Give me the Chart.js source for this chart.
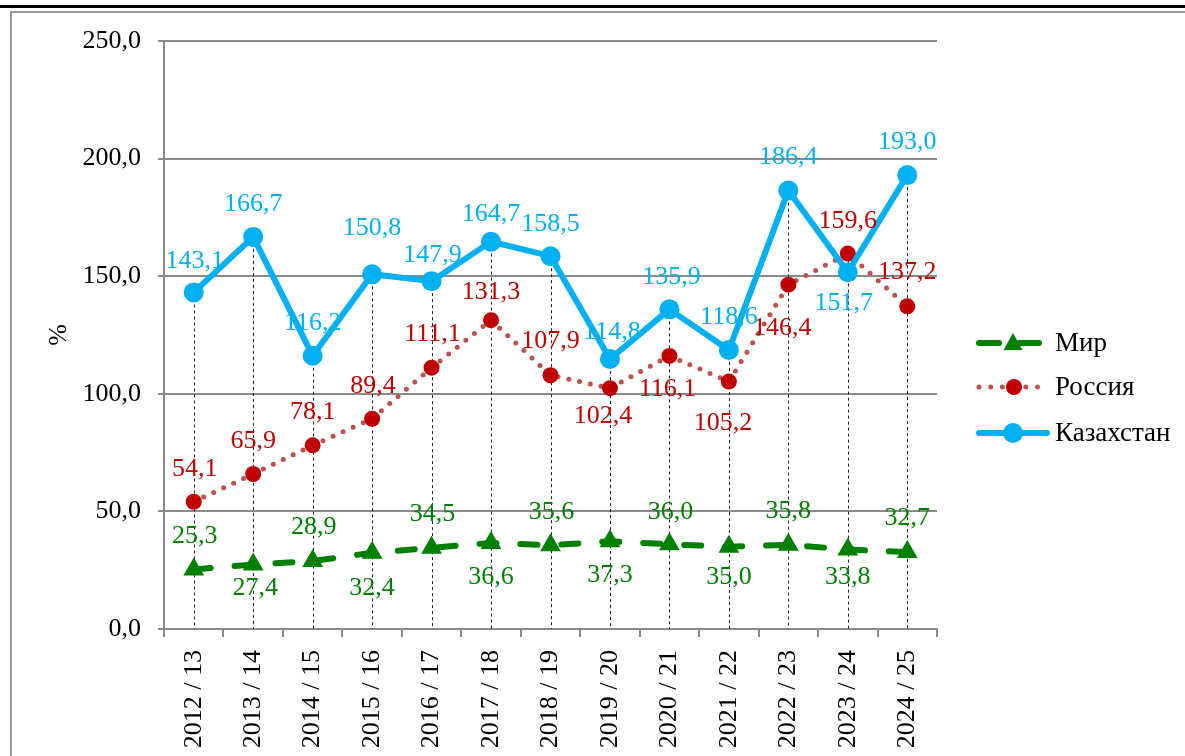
<!DOCTYPE html>
<html><head><meta charset="utf-8">
<script src="https://cdn.jsdelivr.net/npm/chart.js@4.4.1/dist/chart.umd.min.js"></script>
<style>html,body{margin:0;padding:0;background:#fff;overflow:hidden}canvas{display:block}</style>
</head><body>
<canvas id="c" width="1185" height="756"></canvas>
<script>
// ---- data ----
const categories = ['2012 / 13','2013 / 14','2014 / 15','2015 / 16','2016 / 17','2017 / 18','2018 / 19','2019 / 20','2020 / 21','2021 / 22','2022 / 23','2023 / 24','2024 / 25'];
const seriesNames = ['Мир','Россия','Казахстан'];
const mir    = [25.3, 27.4, 28.9, 32.4, 34.5, 36.6, 35.6, 37.3, 36.0, 35.0, 35.8, 33.8, 32.7];
const russia = [54.1, 65.9, 78.1, 89.4, 111.1, 131.3, 107.9, 102.4, 116.1, 105.2, 146.4, 159.6, 137.2];
const kaz    = [143.1, 166.7, 116.2, 150.8, 147.9, 164.7, 158.5, 114.8, 135.9, 118.6, 186.4, 151.7, 193.0];
const yTickValues = [0, 50, 100, 150, 200, 250];
const yTickLabels = ['0,0', '50,0', '100,0', '150,0', '200,0', '250,0'];
const yTitle = '%';

// ---- label placement (pixel offsets from each point, separate from data) ----
const mirLabelOffsets = [[1,-33],[2,24],[1,-34],[0,35],[1,-34],[0,34],[1,-33],[0,34],[1,-32],[0,30],[0,-34],[0,28],[0,-34]];
const rusLabelOffsets = [[1,-33],[0,-33],[0,-33],[1,-33],[1,-34],[0,-28],[0,-34],[-7,28],[-2,33],[-6,42],[-6,44],[0,-32],[0,-34]];
const kazLabelOffsets = [[1,-31],[0,-33],[0,-33],[0,-46],[1,-26],[0,-27],[0,-32],[2,-27],[2,-32],[0,-33],[0,-33],[-4,31],[0,-33]];

const GREEN = '#008000', RED_PT = '#C00000', RED_LN = '#C0504D', BLUE = '#00B0F0';
const GRID = '#8a8a8a';
const FONT = '"Liberation Serif", "Times New Roman", serif';
const FS = 26;
const fmt = v => v.toFixed(1).replace('.', ',');

const framePlugin = {
  id: 'frame',
  beforeDraw(chart) {
    const ctx = chart.ctx;
    ctx.save();
    ctx.fillStyle = '#fff';
    ctx.fillRect(0, 0, chart.width, chart.height);
    ctx.fillStyle = '#000';
    ctx.fillRect(0, 5, chart.width, 3);
    ctx.fillStyle = '#999';
    ctx.fillRect(10, 11, chart.width - 10, 2);
    ctx.fillRect(10, 11, 2, chart.height - 11);
    ctx.restore();
  }
};

const dropLinesPlugin = {
  id: 'dropLines',
  beforeDatasetsDraw(chart) {
    const ctx = chart.ctx, xs = chart.scales.x, ys = chart.scales.y;
    ctx.save();
    ctx.strokeStyle = '#222';
    ctx.lineWidth = 1;
    ctx.setLineDash([3, 3]);
    categories.forEach((c, i) => {
      const top = Math.max(mir[i], russia[i], kaz[i]);
      const x = Math.round(xs.getPixelForValue(i)) + 0.5;
      ctx.beginPath();
      ctx.moveTo(x, ys.getPixelForValue(top));
      ctx.lineTo(x, ys.getPixelForValue(0));
      ctx.stroke();
    });
    ctx.restore();
  }
};

const labelPlugin = {
  id: 'valueLabels',
  afterDatasetsDraw(chart) {
    const ctx = chart.ctx;
    ctx.save();
    ctx.font = FS + 'px ' + FONT;
    ctx.textAlign = 'center';
    ctx.textBaseline = 'middle';
    chart.data.datasets.forEach((ds, di) => {
      const meta = chart.getDatasetMeta(di);
      meta.data.forEach((pt, i) => {
        const off = ds.labelOffsets[i];
        ctx.fillStyle = ds.labelColor;
        ctx.fillText(fmt(ds.data[i]), pt.x + off[0], pt.y + off[1]);
      });
    });
    ctx.restore();
  }
};

const legendPlugin = {
  id: 'customLegend',
  afterDraw(chart) {
    const ctx = chart.ctx;
    const rows = [343, 387, 433];
    const x0 = 979, x1 = 1047, mx = 1013, tx = 1055;
    ctx.save();
    // Мир
    let y = rows[0];
    ctx.strokeStyle = GREEN; ctx.lineWidth = 6; ctx.lineCap = 'round';
    ctx.setLineDash([20, 20]);
    ctx.beginPath(); ctx.moveTo(x0, y); ctx.lineTo(1040, y); ctx.stroke();
    ctx.setLineDash([]);
    ctx.fillStyle = GREEN;
    ctx.beginPath(); ctx.moveTo(mx, y - 10); ctx.lineTo(mx + 9.5, y + 7); ctx.lineTo(mx - 9.5, y + 7); ctx.closePath(); ctx.fill();
    // Россия
    y = rows[1];
    ctx.strokeStyle = RED_LN; ctx.lineWidth = 5;
    ctx.setLineDash([0, 11.7]);
    ctx.beginPath(); ctx.moveTo(x0, y); ctx.lineTo(1041, y); ctx.stroke();
    ctx.setLineDash([]);
    ctx.fillStyle = RED_PT;
    ctx.beginPath(); ctx.arc(mx + 1, y, 8, 0, Math.PI * 2); ctx.fill();
    // Казахстан
    y = rows[2];
    ctx.strokeStyle = BLUE; ctx.lineWidth = 6;
    ctx.beginPath(); ctx.moveTo(x0, y); ctx.lineTo(x1, y); ctx.stroke();
    ctx.fillStyle = BLUE;
    ctx.beginPath(); ctx.arc(mx, y, 10, 0, Math.PI * 2); ctx.fill();
    // texts
    ctx.fillStyle = '#000';
    ctx.font = '27px ' + FONT;
    ctx.textAlign = 'left'; ctx.textBaseline = 'middle';
    seriesNames.forEach((n, i) => ctx.fillText(n, tx, rows[i] + 1));
    ctx.restore();
  }
};

new Chart(document.getElementById('c'), {
  type: 'line',
  data: {
    labels: categories,
    datasets: [
      {
        label: seriesNames[0], data: mir, order: 2,
        borderColor: GREEN, borderWidth: 6, borderDash: [17, 24], borderCapStyle: 'round',
        pointStyle: 'triangle', pointRadius: 12, pointBackgroundColor: GREEN, pointBorderColor: GREEN, pointBorderWidth: 0,
        labelColor: GREEN, labelOffsets: mirLabelOffsets, tension: 0, fill: false
      },
      {
        label: seriesNames[1], data: russia, order: 1,
        borderColor: RED_LN, borderWidth: 5, borderDash: [0, 11], borderCapStyle: 'round',
        pointStyle: 'circle', pointRadius: 8, pointBackgroundColor: RED_PT, pointBorderColor: RED_PT, pointBorderWidth: 0,
        labelColor: RED_PT, labelOffsets: rusLabelOffsets, tension: 0, fill: false
      },
      {
        label: seriesNames[2], data: kaz, order: 0,
        borderColor: BLUE, borderWidth: 6, borderCapStyle: 'round', borderJoinStyle: 'round',
        pointStyle: 'circle', pointRadius: 10, pointBackgroundColor: BLUE, pointBorderColor: BLUE, pointBorderWidth: 0,
        labelColor: BLUE, labelOffsets: kazLabelOffsets, tension: 0, fill: false
      }
    ]
  },
  options: {
    responsive: false,
    devicePixelRatio: 1,
    animation: false,
    events: [],
    layout: { padding: { left: 44, top: 41, right: 248, bottom: 0 } },
    plugins: { legend: { display: false }, tooltip: { enabled: false } },
    scales: {
      x: {
        type: 'category',
        offset: true,
        grid: { display: true, drawOnChartArea: false, drawTicks: true, tickLength: 8, offset: true, color: GRID, lineWidth: 2 },
        border: { display: true, color: GRID, width: 2 },
        ticks: { color: '#000', font: { family: FONT, size: FS }, minRotation: 90, maxRotation: 90, padding: 13, autoSkip: false },
        afterFit: s => { s.height = 127; }
      },
      y: {
        min: 0, max: 250,
        afterBuildTicks: s => { s.ticks = yTickValues.map(v => ({ value: v })); },
        grid: { color: GRID, lineWidth: 2, drawTicks: true, tickLength: 6 },
        border: { display: true, color: GRID, width: 2 },
        ticks: { color: '#000', font: { family: FONT, size: FS }, padding: 17,
          callback: v => yTickLabels[yTickValues.indexOf(v)] },
        title: { display: true, text: yTitle, color: '#000', font: { family: FONT, size: FS }, padding: 0 },
        afterFit: s => { s.width = 120; }
      }
    }
  },
  plugins: [framePlugin, dropLinesPlugin, labelPlugin, legendPlugin]
});
</script>
</body></html>
